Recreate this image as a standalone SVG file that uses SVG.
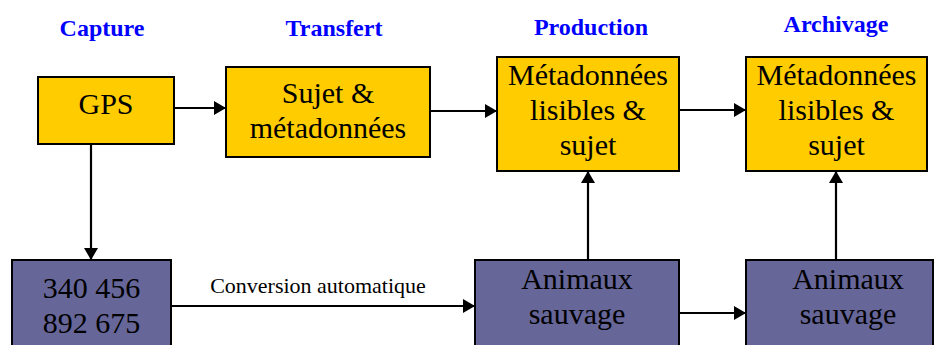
<svg xmlns="http://www.w3.org/2000/svg" width="938" height="345" viewBox="0 0 938 345">
<style>
.h{font-family:"Liberation Serif","Times New Roman",serif;font-weight:bold;font-size:24px;fill:#0000ff;text-anchor:middle}
.t{font-family:"Liberation Serif","Times New Roman",serif;font-size:30px;fill:#000;text-anchor:middle}
.s{font-family:"Liberation Serif","Times New Roman",serif;font-size:22px;fill:#000;text-anchor:middle}
.y{fill:#ffcc00;stroke:#000;stroke-width:2}
.p{fill:#666699;stroke:#000;stroke-width:2}
.c{stroke:#000;stroke-width:2.2;fill:none;marker-end:url(#a)}
</style>
<defs>
<marker id="a" markerUnits="userSpaceOnUse" markerWidth="12" markerHeight="14" refX="12" refY="7" orient="auto">
<path d="M0,0 L12,7 L0,14 Z" fill="#000"/>
</marker>
</defs>
<rect width="938" height="345" fill="#fff"/>
<g id="headings">
<text class="h" x="102" y="36">Capture</text>
<text class="h" x="334" y="36">Transfert</text>
<text class="h" x="591" y="35">Production</text>
<text class="h" x="836" y="32">Archivage</text>
</g>
<g id="connectors">
<line class="c" x1="174" y1="108" x2="226" y2="108"/>
<line class="c" x1="430" y1="111" x2="497" y2="111"/>
<line class="c" x1="679" y1="110" x2="746" y2="110"/>
<line class="c" x1="91" y1="144" x2="91" y2="260"/>
<line class="c" x1="171" y1="306" x2="475" y2="306"/>
<line class="c" x1="679" y1="313" x2="746" y2="313"/>
<line class="c" x1="588" y1="260" x2="588" y2="171"/>
<line class="c" x1="836" y1="260" x2="836" y2="171"/>
<text class="s" x="318" y="293">Conversion automatique</text>
</g>
<g id="gps">
<rect class="y" x="38" y="77" width="136" height="67"/>
<text class="t" x="106" y="114">GPS</text>
</g>
<g id="sujet">
<rect class="y" x="226" y="67" width="204" height="90"/>
<text class="t" x="328" y="103">Sujet &amp;</text>
<text class="t" x="328" y="138">métadonnées</text>
</g>
<g id="production">
<rect class="y" x="497" y="57" width="182" height="114"/>
<text class="t" x="588" y="85">Métadonnées</text>
<text class="t" x="588" y="120">lisibles &amp;</text>
<text class="t" x="588" y="155">sujet</text>
</g>
<g id="archivage">
<rect class="y" x="746" y="57" width="181" height="114"/>
<text class="t" x="836.5" y="85">Métadonnées</text>
<text class="t" x="836.5" y="120">lisibles &amp;</text>
<text class="t" x="836.5" y="155">sujet</text>
</g>
<g id="coords">
<rect class="p" x="12" y="260" width="159" height="100"/>
<text class="t" x="91.5" y="298">340 456</text>
<text class="t" x="91.5" y="333">892 675</text>
</g>
<g id="animaux1">
<rect class="p" x="475" y="260" width="204" height="100"/>
<text class="t" x="577" y="289">Animaux</text>
<text class="t" x="577" y="324">sauvage</text>
</g>
<g id="animaux2">
<rect class="p" x="746" y="260" width="187" height="100"/>
<text class="t" x="848" y="289">Animaux</text>
<text class="t" x="848" y="324">sauvage</text>
</g>
</svg>
